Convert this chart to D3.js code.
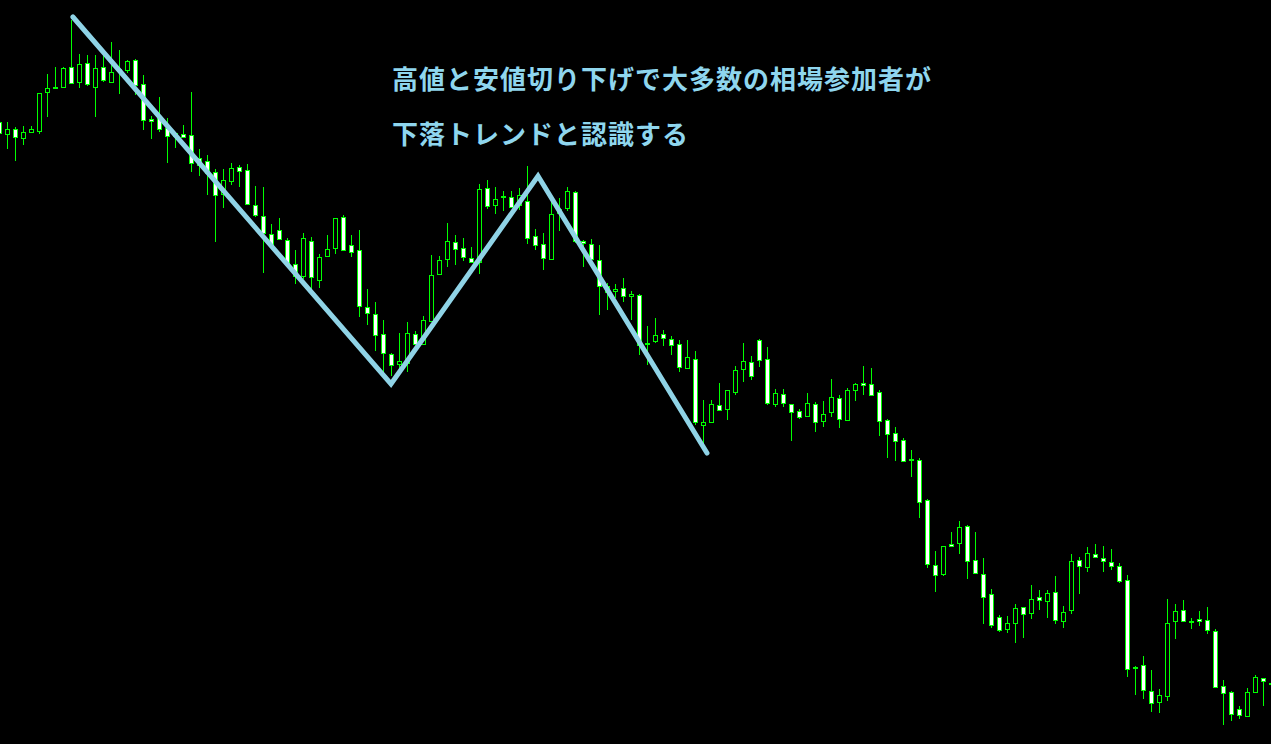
<!DOCTYPE html>
<html>
<head>
<meta charset="utf-8">
<script src="https://cdn.jsdelivr.net/npm/d3@7"></script>
<style>
  html, body { margin: 0; padding: 0; background: #000; overflow: hidden; }
  svg { display: block; }
</style>
</head>
<body>
<svg id="chart" width="1271" height="744"></svg>
<script>
// OHLC, one value per bar (price points)
const opens = [
  878, 866, 871, 862, 868, 869, 908, 912, 913, 933, 918, 937, 913, 933, 918, 929, 930, 940, 916, 881,
  883, 872, 867, 866, 865, 842, 839, 828, 806, 819, 833, 830, 795, 784, 766, 770, 760, 736, 724, 759,
  720, 744, 752, 783, 755, 750, 693, 686, 666, 646, 636, 637, 666, 656, 679, 726, 741, 758, 752, 742,
  738, 812, 795, 803, 803, 795, 799, 764, 756, 741, 787, 792, 808, 759, 756, 740, 714, 709, 712, 704,
  705, 656, 659, 666, 661, 656, 632, 641, 575, 578, 595, 591, 608, 631, 638, 660, 641, 596, 606, 596,
  589, 584, 596, 579, 588, 602, 580, 610, 617, 616, 608, 580, 567, 560, 540, 540, 500, 435, 426, 456,
  457, 474, 440, 426, 406, 383, 371, 377, 393, 387, 403, 399, 408, 379, 390, 440, 433, 446, 442, 438,
  434, 420, 332, 335, 309, 298, 304, 379, 390, 378, 381, 380, 369, 314, 308, 291, 284, 308, 322, 316
];
const highs = [
  880, 878, 873, 874, 874, 907, 926, 933, 933, 980, 946, 945, 945, 945, 958, 950, 940, 941, 925, 884,
  903, 882, 868, 875, 908, 851, 845, 831, 831, 837, 835, 836, 814, 813, 776, 782, 762, 750, 767, 763,
  746, 765, 782, 785, 765, 770, 711, 698, 680, 647, 667, 678, 669, 684, 745, 744, 777, 765, 762, 753,
  816, 820, 813, 809, 809, 812, 834, 771, 767, 802, 802, 813, 809, 760, 761, 755, 717, 716, 722, 709,
  706, 674, 682, 670, 664, 660, 660, 649, 600, 600, 617, 610, 634, 657, 644, 661, 653, 611, 611, 596,
  591, 607, 598, 599, 621, 605, 612, 617, 634, 632, 610, 581, 573, 562, 550, 542, 501, 449, 454, 468,
  479, 475, 468, 442, 411, 385, 384, 396, 393, 415, 410, 410, 424, 394, 446, 443, 453, 456, 454, 451,
  437, 425, 334, 344, 330, 311, 401, 396, 400, 382, 389, 393, 371, 320, 309, 294, 312, 325, 322, 320
];
const lows = [
  865, 851, 839, 855, 868, 866, 883, 911, 913, 916, 912, 914, 883, 918, 917, 906, 927, 905, 870, 861,
  868, 837, 852, 863, 828, 824, 805, 758, 792, 815, 813, 796, 783, 727, 752, 761, 735, 716, 721, 711,
  712, 744, 746, 750, 743, 683, 675, 649, 627, 624, 627, 628, 655, 655, 679, 725, 733, 735, 739, 738,
  726, 791, 786, 789, 793, 790, 756, 750, 730, 741, 769, 789, 757, 733, 738, 685, 690, 702, 698, 680,
  645, 635, 657, 654, 645, 628, 631, 575, 553, 578, 590, 580, 605, 618, 620, 633, 595, 593, 593, 559,
  581, 584, 568, 573, 583, 572, 579, 599, 605, 605, 564, 542, 539, 538, 523, 482, 432, 408, 424, 453,
  446, 421, 426, 376, 372, 368, 367, 357, 362, 381, 390, 382, 376, 372, 386, 406, 428, 442, 428, 430,
  417, 323, 305, 301, 288, 287, 299, 361, 379, 371, 374, 366, 312, 275, 279, 281, 284, 308, 294, 314
];
const closes = [
  867, 871, 863, 868, 871, 907, 912, 913, 932, 917, 936, 916, 932, 920, 928, 931, 939, 915, 880, 879,
  871, 864, 864, 863, 837, 835, 827, 805, 820, 832, 829, 796, 785, 767, 755, 761, 737, 724, 762, 723,
  743, 751, 782, 750, 748, 694, 687, 665, 647, 635, 639, 667, 656, 680, 725, 740, 759, 751, 743, 738,
  811, 794, 801, 804, 793, 805, 762, 755, 742, 786, 791, 809, 759, 757, 741, 714, 708, 711, 704, 706,
  655, 657, 665, 662, 655, 633, 643, 578, 578, 596, 590, 610, 630, 639, 624, 640, 597, 607, 597, 588,
  583, 597, 578, 586, 603, 581, 610, 616, 615, 605, 579, 566, 559, 539, 541, 498, 436, 425, 454, 454,
  473, 439, 427, 403, 375, 370, 377, 392, 386, 401, 400, 407, 380, 388, 439, 434, 447, 443, 439, 434,
  419, 331, 333, 310, 297, 305, 377, 389, 379, 379, 379, 370, 313, 307, 286, 285, 308, 323, 319, 317
];

// zig-zag trend line: [bar index, price]
const trendIdx = [9.2, 48.96, 67.34, 88.46];
const trendPrice = [983, 616, 824, 547];

const noteLines = [
  "高値と安値切り下げで大多数の相場参加者が",
  "下落トレンドと認識する"
];

const width = 1271, height = 744;
const svg = d3.select("#chart");

svg.append("rect")
  .attr("width", width)
  .attr("height", height)
  .attr("fill", "#000");

const bars = opens.map((o, i) => ({
  i: i, o: o, h: highs[i], l: lows[i], c: closes[i]
}));

const x = d3.scaleLinear()
  .domain([0, bars.length - 1])
  .range([-0.7, 1271.3]);

const y = d3.scaleLinear()
  .domain([256, 1000])
  .range([height, 0]);

const green = "#00ff00";

const candle = svg.append("g")
  .selectAll("g")
  .data(bars)
  .enter()
  .append("g");

// wicks
candle.append("line")
  .attr("x1", (d) => Math.round(x(d.i)) + 0.5)
  .attr("x2", (d) => Math.round(x(d.i)) + 0.5)
  .attr("y1", (d) => Math.round(y(d.h)))
  .attr("y2", (d) => Math.round(y(d.l)))
  .attr("stroke", green)
  .attr("stroke-width", 1)
  .attr("shape-rendering", "crispEdges");

// bodies: white = down bar, black = up bar
candle.append("rect")
  .attr("x", (d) => Math.round(x(d.i)) - 2 + 0.5)
  .attr("y", (d) => Math.round(y(Math.max(d.o, d.c))) + 0.5)
  .attr("width", 4)
  .attr("height", (d) => Math.max(1, Math.round(Math.abs(y(d.o) - y(d.c)))))
  .attr("fill", (d) => (d.c < d.o ? "#ffffff" : "#000000"))
  .attr("stroke", green)
  .attr("stroke-width", 1)
  .attr("shape-rendering", "crispEdges");

// trend line
const trend = trendIdx.map((t, k) => [x(t), y(trendPrice[k])]);
svg.append("path")
  .attr("d", d3.line()(trend))
  .attr("fill", "none")
  .attr("stroke", "#8fd3e6")
  .attr("stroke-width", 5)
  .attr("stroke-linecap", "round")
  .attr("stroke-linejoin", "miter");

// annotation
svg.append("g")
  .selectAll("text")
  .data(noteLines)
  .enter()
  .append("text")
  .attr("x", 392)
  .attr("y", (d, k) => 89 + k * 55)
  .attr("fill", "#8fd6ee")
  .attr("font-family", "'Noto Sans CJK JP', sans-serif")
  .attr("font-weight", "bold")
  .attr("font-size", 26)
  .attr("letter-spacing", 1)
  .text((d) => d);
</script>
</body>
</html>
